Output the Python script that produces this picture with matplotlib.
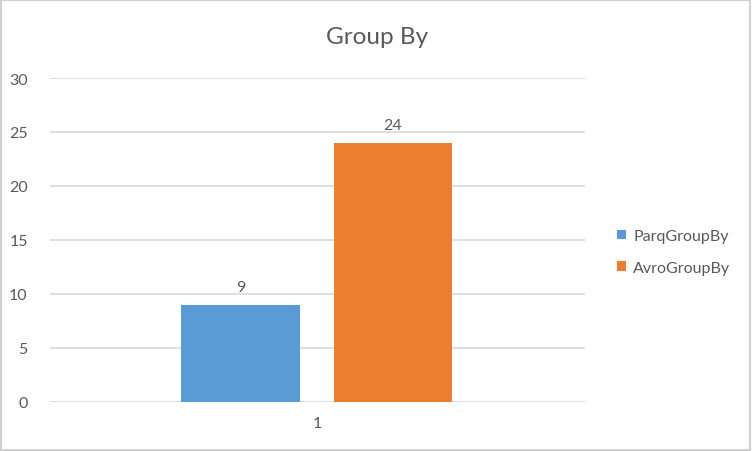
import matplotlib
matplotlib.use("Agg")
import matplotlib.pyplot as plt
from matplotlib.patches import Rectangle

categories = ["1"]
series_names = ["ParqGroupBy", "AvroGroupBy"]
series_values = [[9], [24]]
colors = ["#5B9BD5", "#ED7D31"]
yticks = [0, 5, 10, 15, 20, 25, 30]
title = "Group By"

plt.rcParams['font.family'] = ['Lato', 'DejaVu Sans']
txt = "#595959"

fig = plt.figure(figsize=(7.52, 4.52), dpi=100)
ax = fig.add_axes([50/752, 1-403/452, 535/752, 324/452])

width = 0.222
offsets = [-0.144, 0.141]
bars = []
for i, (name, vals) in enumerate(zip(series_names, series_values)):
    b = ax.bar([offsets[i]], vals, width=width, color=colors[i], label=name, zorder=3)
    bars.append(b)
    for rect, v in zip(b, vals):
        ax.text(rect.get_x() + rect.get_width()/2, v + 1.0, str(v),
                ha='center', va='bottom', fontsize=11.5, color=txt)

ax.set_xlim(-0.5, 0.5)
ax.set_ylim(0, 30)
ax.set_yticks(yticks)
ax.set_xticks([0])
ax.set_xticklabels(categories)
ax.yaxis.grid(True, color="#D9D9D9", linewidth=1.2, zorder=0)
for s in ax.spines.values():
    s.set_visible(False)
ax.tick_params(axis='both', length=0, colors=txt, labelsize=11.5)
ax.tick_params(axis='y', pad=16)
ax.tick_params(axis='x', pad=10)

fig.text(377/752, 1-38/452, title, ha='center', va='center', fontsize=17.5, color=txt)

leg = fig.legend(handles=[b[0] for b in bars], labels=series_names,
                 loc='center left', bbox_to_anchor=(603/752, 1-253/452),
                 frameon=False, fontsize=11.5, labelcolor=txt,
                 handlelength=0.55, handleheight=0.55, handletextpad=0.45,
                 labelspacing=1.1)

fig.add_artist(Rectangle((0.001, 0.002), 0.997, 0.995, transform=fig.transFigure,
                         fill=False, edgecolor="#D0D0D0", linewidth=1.5))

fig.savefig("out.png", dpi=100)
